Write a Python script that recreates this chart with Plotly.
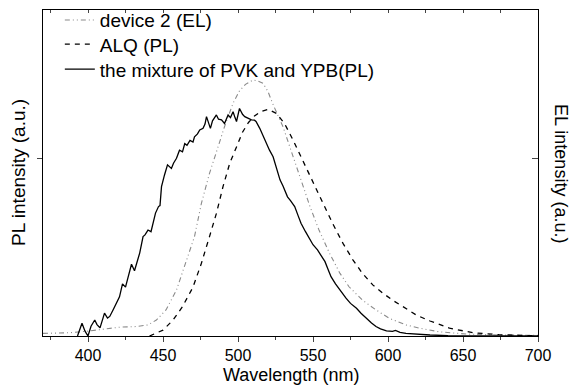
import plotly.graph_objects as go

# ---- data (wavelength in nm, normalized intensity) ----
mix_x = [393, 396, 398, 400, 402, 404.5, 406, 408, 410, 411, 413, 414.5, 416.7, 419, 421, 423, 425,
         426.7, 429, 431, 433, 434.5, 436.7, 438, 440, 442, 445, 447, 448, 449, 451, 453, 455.6, 457,
         459, 461, 463, 464.5, 466, 468, 470, 471, 473, 474.5, 476.7, 478, 479, 480, 481.6, 483, 485.6,
         487, 489, 491, 493.4, 495, 496.7, 498, 499, 501, 503, 504.5, 506, 509, 511, 512, 514.5, 517,
         519, 521, 523.4, 526, 528, 530, 533, 535, 537.8, 540, 542, 545, 548, 550, 553, 555, 558, 560,
         562, 565, 567.8, 570, 572, 575, 579, 582, 585.6, 589, 592, 595, 599, 603, 605, 608, 612, 619,
         628, 640, 660, 700]
mix_y = [0.0, 0.039, 0.015, 0.0, 0.03, 0.049, 0.035, 0.025, 0.055, 0.07, 0.055, 0.06, 0.08, 0.10, 0.12,
         0.16, 0.15, 0.18, 0.22, 0.20, 0.23, 0.255, 0.305, 0.31, 0.325, 0.32, 0.377, 0.397, 0.40, 0.458,
         0.494, 0.525, 0.514, 0.53, 0.545, 0.57, 0.565, 0.59, 0.585, 0.60, 0.595, 0.611, 0.62, 0.632,
         0.637, 0.65, 0.673, 0.66, 0.637, 0.66, 0.678, 0.665, 0.663, 0.652, 0.678, 0.67, 0.688, 0.67,
         0.658, 0.698, 0.68, 0.673, 0.67, 0.663, 0.662, 0.658, 0.637, 0.61, 0.586, 0.57, 0.55, 0.51,
         0.479, 0.46, 0.427, 0.415, 0.397, 0.37, 0.346, 0.32, 0.294, 0.28, 0.264, 0.25, 0.228, 0.205,
         0.182, 0.16, 0.141, 0.128, 0.116, 0.10, 0.085, 0.07, 0.054, 0.04, 0.029, 0.022, 0.016, 0.014,
         0.017, 0.011, 0.008, 0.005, 0.003, 0.001, 0.0, 0.0]

el_x = [370, 388, 400, 408, 421, 432, 440, 445.6, 452, 459, 465.6, 471, 475.6, 481, 486.7, 491, 496.7,
        501, 505, 510, 513, 516.7, 520, 523, 530, 536.7, 541, 548, 554, 561, 568, 574, 583, 592, 601,
        612, 621, 634, 652, 674, 700]
el_y = [0.008, 0.01, 0.015, 0.02, 0.027, 0.029, 0.034, 0.049, 0.08, 0.141, 0.233, 0.305, 0.407, 0.499,
        0.58, 0.642, 0.714, 0.752, 0.772, 0.785, 0.783, 0.775, 0.75, 0.714, 0.642, 0.55, 0.489, 0.397,
        0.325, 0.254, 0.192, 0.151, 0.11, 0.08, 0.054, 0.034, 0.024, 0.013, 0.006, 0.003, 0.002]

alq_x = [441, 450, 456.7, 463, 470, 475.6, 481, 485.6, 490, 494.5, 499, 503, 507, 511, 515, 520, 525.6,
         531, 536.7, 543, 550, 556.7, 563, 570, 576.7, 583, 590, 596.7, 603, 610, 619, 628, 641, 656.7,
         674, 696, 700]
alq_y = [0.0, 0.018, 0.049, 0.09, 0.15, 0.223, 0.305, 0.376, 0.458, 0.53, 0.58, 0.625, 0.655, 0.675,
         0.688, 0.695, 0.683, 0.652, 0.601, 0.54, 0.468, 0.407, 0.346, 0.284, 0.233, 0.192, 0.156, 0.131,
         0.11, 0.09, 0.064, 0.046, 0.024, 0.01, 0.004, 0.001, 0.001]

x_ticks = [400, 450, 500, 550, 600, 650, 700]
y_tick = [0.543]

FONT = "Liberation Sans, Arial, sans-serif"
LEG_FONT = dict(size=19, family=FONT, color="black")

fig = go.Figure()
fig.add_trace(go.Scatter(x=el_x, y=el_y, mode="lines", name="device 2 (EL)", legend="legend",
                         line=dict(color="#8a8a8a", width=1.1, dash="5px,3px,1px,3px,1px,3px")))
fig.add_trace(go.Scatter(x=alq_x, y=alq_y, mode="lines", name="ALQ (PL)", legend="legend2",
                         line=dict(color="black", width=1.3, dash="5px,5px")))
fig.add_trace(go.Scatter(x=mix_x, y=mix_y, mode="lines", name="the mixture of PVK and YPB(PL)",
                         legend="legend3", line=dict(color="black", width=1.3)))
# empty helper trace for top/right frame axes
fig.add_trace(go.Scatter(x=[], y=[], xaxis="x2", yaxis="y2", showlegend=False, hoverinfo="skip"))

leg_common = dict(x=0.034, xanchor="left", yanchor="middle", bgcolor="rgba(0,0,0,0)",
                  font=LEG_FONT, borderwidth=0)

axis_common = dict(showline=True, linecolor="black", linewidth=1, showgrid=False, zeroline=False,
                   automargin=False)

fig.update_layout(
    width=571, height=386,
    margin=dict(l=43, r=33, t=10, b=50, autoexpand=False),
    paper_bgcolor="white", plot_bgcolor="white",
    font=dict(family=FONT, size=16, color="black"),
    showlegend=True,
    legend=dict(y=0.969, **leg_common),
    legend2=dict(y=0.895, **leg_common),
    legend3=dict(y=0.818, **leg_common),
    xaxis=dict(range=[370, 700], tickvals=x_ticks, ticks="outside", ticklen=5, tickwidth=1,
               tickfont=dict(size=16),
               minor=dict(dtick=25, tick0=375, ticks="outside", ticklen=3, tickwidth=1, showgrid=False),
               **axis_common),
    yaxis=dict(range=[0, 1], tickvals=y_tick, ticks="outside", ticklen=5, showticklabels=False,
               **axis_common),
    xaxis2=dict(range=[370, 700], overlaying="x", side="top", anchor="y", dtick=25, tick0=375,
                ticks="inside", ticklen=3, showticklabels=False, **axis_common),
    yaxis2=dict(range=[0, 1], overlaying="y", side="right", anchor="x", tickvals=y_tick,
                ticks="inside", ticklen=6, showticklabels=False, **axis_common),
    annotations=[
        dict(text="Wavelength (nm)", xref="paper", yref="paper", x=0.5, y=0, yshift=-39,
             xanchor="center", yanchor="middle", showarrow=False, font=dict(size=18, family=FONT)),
        dict(text="PL intensity (a.u.)", textangle=-90, xref="paper", yref="paper", x=0, y=0.5,
             xshift=-25, xanchor="center", yanchor="middle", showarrow=False,
             font=dict(size=19, family=FONT)),
        dict(text="EL intensity (a.u.)", textangle=90, xref="paper", yref="paper",
             x=1.0, y=0.5, xshift=23, xanchor="center", yanchor="middle", showarrow=False,
             font=dict(size=18, family=FONT)),
    ],
)

fig.write_html("out.html")
